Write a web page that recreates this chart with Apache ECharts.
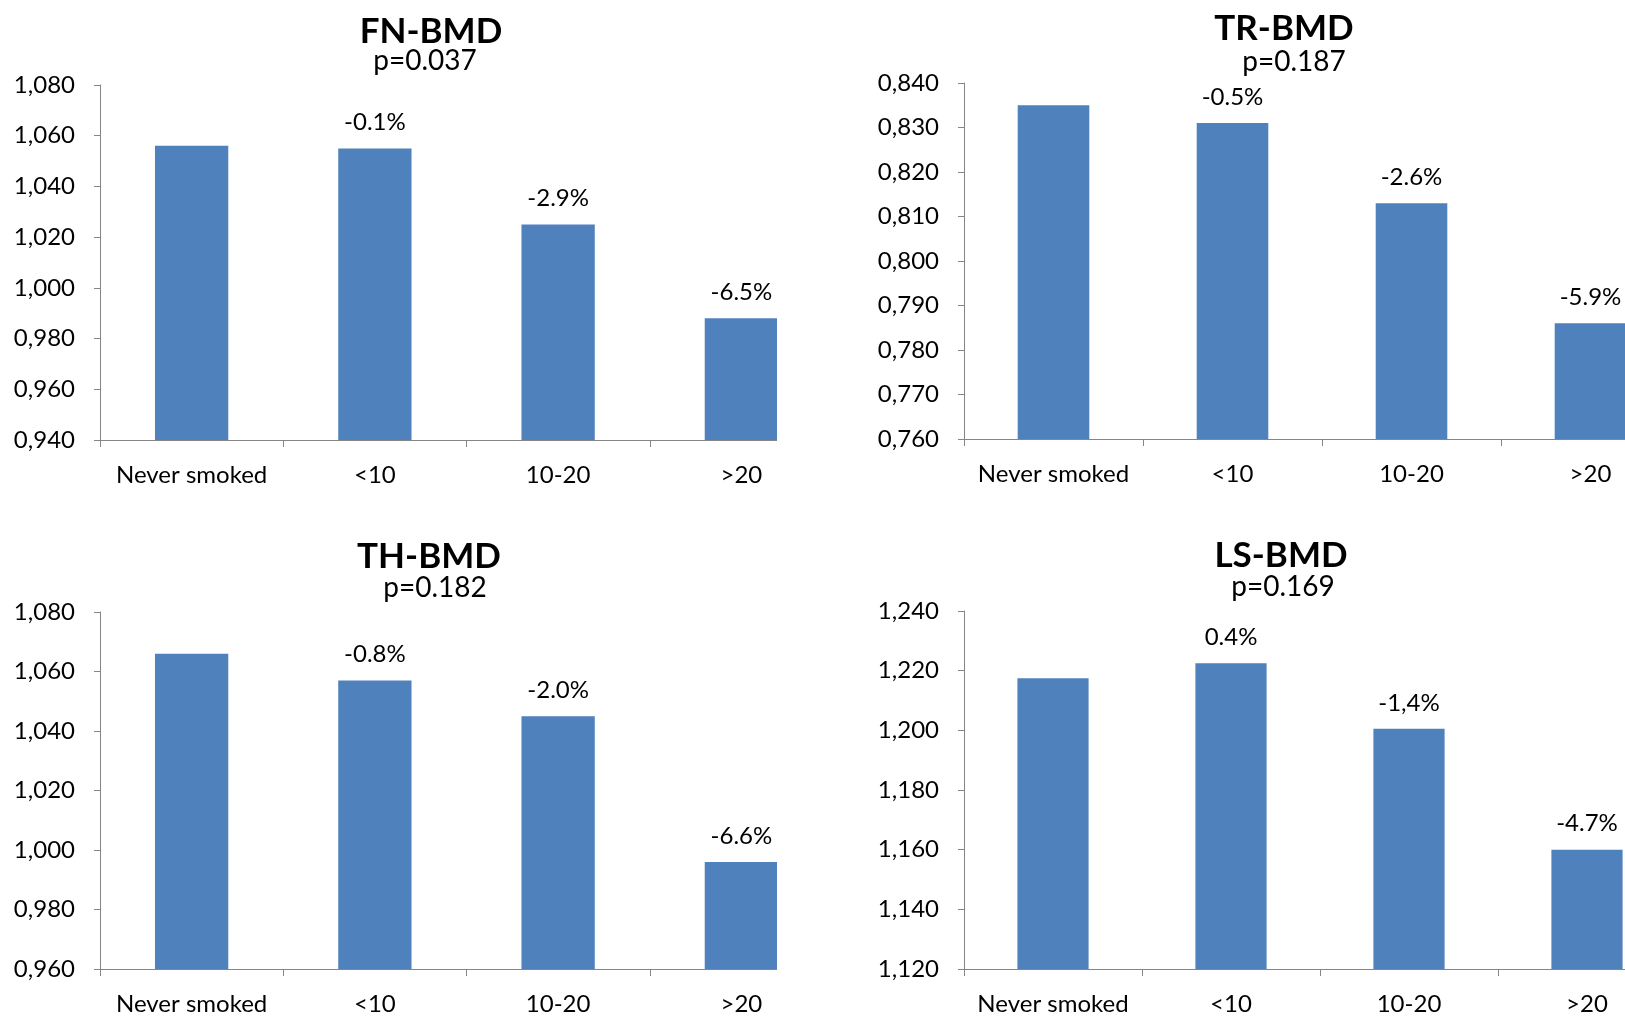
<!DOCTYPE html>
<html>
<head>
<meta charset="utf-8">
<script src="https://cdn.jsdelivr.net/npm/echarts/dist/echarts.min.js"></script>
<style>
html,body{margin:0;padding:0;background:#fff;overflow:hidden;width:1625px;height:1016px}
#leftClip{position:absolute;left:0;top:0;width:777px;height:1016px;overflow:hidden}
#left{position:absolute;left:0;top:0;width:880px;height:1016px}
#rightClip{position:absolute;left:777px;top:0;width:848px;height:1016px;overflow:hidden}
#right{position:absolute;left:0;top:0;width:960px;height:1016px}
</style>
</head>
<body>
<div id="leftClip"><div id="left"></div></div>
<div id="rightClip"><div id="right"></div></div>
<script>
// ---- data ----
const categories = ['Never smoked', '<10', '10-20', '>20'];

const fnValues = [1.056, 1.055, 1.025, 0.988];
const fnLabels = ['', '-0.1%', '-2.9%', '-6.5%'];
const fnAxis = [0.94, 1.08, 0.02];   // min, max, interval

const trValues = [0.835, 0.831, 0.813, 0.786];
const trLabels = ['', '-0.5%', '-2.6%', '-5.9%'];
const trAxis = [0.76, 0.84, 0.01];

const thValues = [1.066, 1.057, 1.045, 0.996];
const thLabels = ['', '-0.8%', '-2.0%', '-6.6%'];
const thAxis = [0.96, 1.08, 0.02];

const lsValues = [1.2175, 1.2225, 1.2005, 1.160];
const lsLabels = ['', '0.4%', '-1,4%', '-4.7%'];
const lsAxis = [1.12, 1.24, 0.02];

const titles = ['FN-BMD', 'TR-BMD', 'TH-BMD', 'LS-BMD'];
const pValues = ['p=0.037', 'p=0.187', 'p=0.182', 'p=0.169'];

// ---- styling ----
const FONT = 'Lato, "Open Sans", sans-serif';
const BAR = '#4F81BD';
const AXIS = '#868686';
const TXT = '#000000';

function fmtTick(v) { return v.toFixed(3).replace('.', ','); }

function buildPanel(i, grid, values, labels, axis) {
  return {
    grid: Object.assign({containLabel: false}, grid),
    xAxis: {
      type: 'category', gridIndex: i, data: categories,
      axisLine: {show: true, lineStyle: {color: AXIS, width: 1}},
      axisTick: {show: true, length: 7, alignWithLabel: false, lineStyle: {color: AXIS}},
      axisLabel: {interval: 0, fontSize: 24, fontFamily: FONT, color: TXT, margin: 23},
      splitLine: {show: false}
    },
    yAxis: {
      type: 'value', gridIndex: i, min: axis[0], max: axis[1], interval: axis[2],
      axisLine: {show: true, lineStyle: {color: AXIS, width: 1}},
      axisTick: {show: true, length: 6, inside: false, lineStyle: {color: AXIS}},
      axisLabel: {fontSize: 24, fontFamily: FONT, color: TXT, margin: 25, formatter: fmtTick},
      splitLine: {show: false}
    },
    series: {
      type: 'bar', xAxisIndex: i, yAxisIndex: i, data: values, barWidth: '40%',
      itemStyle: {color: BAR},
      label: {show: true, position: 'top', distance: 14, fontSize: 24, lineHeight: 24,
              fontFamily: FONT, color: TXT,
              formatter: p => labels[p.dataIndex]}
    }
  };
}

function titleItems(t, p, tx, ty, px, py) {
  return [
    {text: t, left: tx, top: ty, textAlign: 'center', textVerticalAlign: 'middle', padding: 0,
     textStyle: {fontSize: 35, fontWeight: 'bold', fontFamily: FONT, color: TXT}},
    {text: p, left: px, top: py, textAlign: 'center', textVerticalAlign: 'middle', padding: 0,
     textStyle: {fontSize: 28, fontWeight: 'normal', fontFamily: FONT, color: TXT}}
  ];
}

function assemble(panels, titleList) {
  return {
    animation: false,
    backgroundColor: '#fff',
    title: titleList,
    grid: panels.map(p => p.grid),
    xAxis: panels.map(p => p.xAxis),
    yAxis: panels.map(p => p.yAxis),
    series: panels.map(p => p.series)
  };
}

// left column (FN, TH)
const leftChart = echarts.init(document.getElementById('left'));
leftChart.setOption(assemble([
  buildPanel(0, {left: 100, top: 85, width: 733, height: 355}, fnValues, fnLabels, fnAxis),
  buildPanel(1, {left: 100, top: 612, width: 733, height: 358}, thValues, thLabels, thAxis)
], [].concat(
  titleItems(titles[0], pValues[0], 431, 32, 425, 61),
  titleItems(titles[2], pValues[2], 429, 557, 435, 588)
)));

// right column (TR, LS)
const rightChart = echarts.init(document.getElementById('right'));
rightChart.setOption(assemble([
  buildPanel(0, {left: 187, top: 83, width: 716, height: 356}, trValues, trLabels, trAxis),
  buildPanel(1, {left: 187, top: 611, width: 712, height: 359}, lsValues, lsLabels, lsAxis)
], [].concat(
  titleItems(titles[1], pValues[1], 507, 29, 517, 62),
  titleItems(titles[3], pValues[3], 504, 556, 506, 587)
)));
</script>
</body>
</html>
